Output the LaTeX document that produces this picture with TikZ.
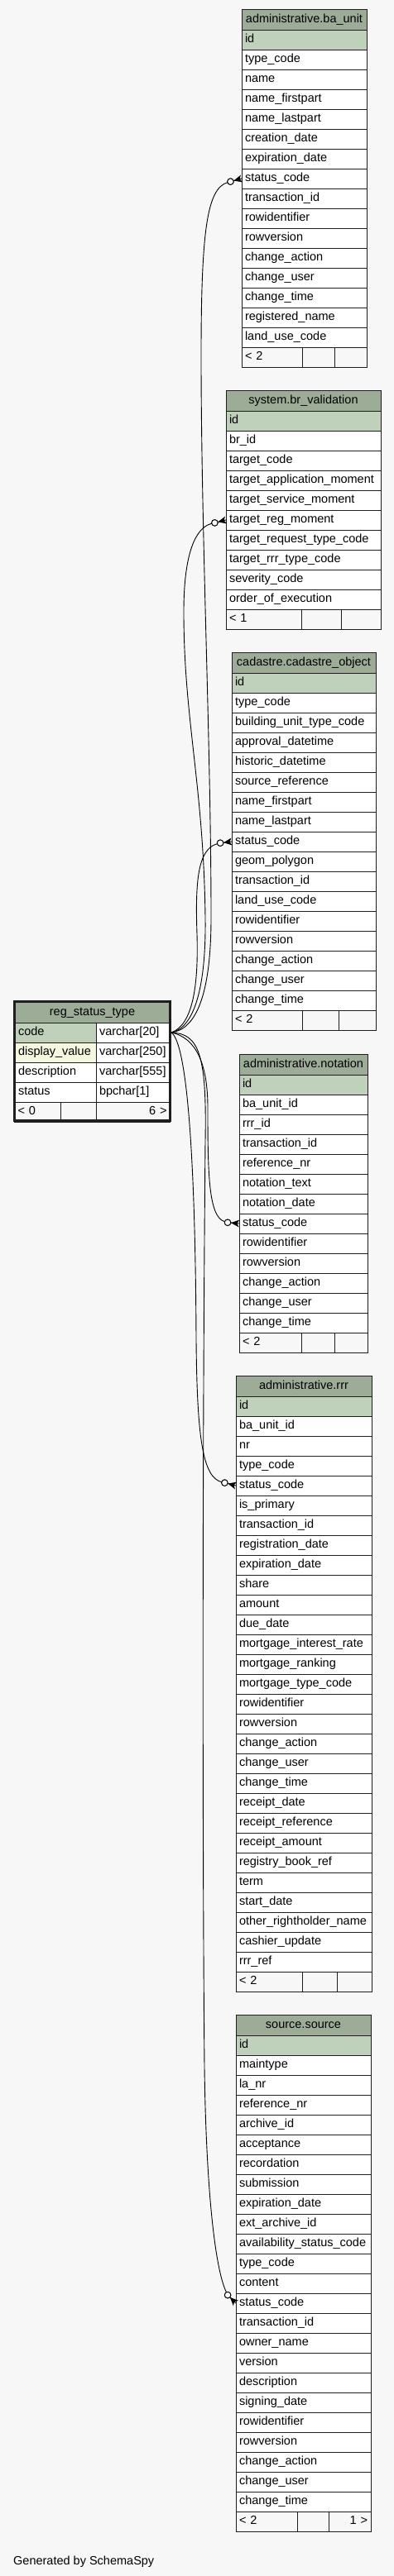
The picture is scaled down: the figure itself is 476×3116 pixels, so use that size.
\documentclass[tikz,border=0pt]{standalone}
\usepackage{fontspec}
\setmainfont{Liberation Sans}
\usetikzlibrary{calc}
\definecolor{bgc}{RGB}{247,247,247}
\definecolor{hdrc}{RGB}{156,172,151}
\definecolor{idc}{RGB}{191,209,186}
\definecolor{dispc}{RGB}{245,247,222}
\definecolor{linec}{RGB}{30,30,30}
\tikzset{
  cell/.style={draw=linec, line width=1pt, rectangle, inner sep=0pt, inner xsep=4pt, outer sep=0pt,
    minimum height=24pt, text height=10.5pt, text depth=3pt,
    font=\fontsize{14.5pt}{17pt}\selectfont, anchor=north west, align=left},
  hdrcell/.style={cell, fill=hdrc, minimum height=25pt, align=center},
  footcell/.style={cell, fill=bgc},
  dotc/.style={circle, draw=black, fill=white, line width=0.9pt, minimum size=7.5pt, inner sep=0pt, outer sep=0pt},
  rel/.style={draw=black, line width=0.9pt},
  credit/.style={font=\fontsize{14.5pt}{17pt}\selectfont, inner sep=0pt, anchor=base west},
}
\newcommand\erdtable[6]{%
  \pgfmathsetmacro\erdtw{#3-#2}%
  \pgfmathsetmacro\erdttw{#3-#2-8}%
  \node[hdrcell, minimum width=\erdtw pt, text width=\erdttw pt] (#1-h) at (#2,#4) {#5};
  \foreach \erdrow [count=\i from 0] in {#6} {%
    \pgfmathsetmacro\erdy{#4+25+24*\i}%
    \ifnum\i=0 \def\erdfill{idc}\else\def\erdfill{white}\fi
    \node[cell, fill=\erdfill, minimum width=\erdtw pt, text width=\erdttw pt] (#1-\i) at (#2,\erdy) {\erdrow};
  }%
}
\newcommand\erdfoot[8]{%
  \pgfmathsetmacro\fwa{#3-#2}\pgfmathsetmacro\fta{#3-#2-8}%
  \pgfmathsetmacro\fwb{#4-#3}%
  \pgfmathsetmacro\fwc{#5-#4}\pgfmathsetmacro\ftc{#5-#4-8}%
  \node[footcell, minimum width=\fwa pt, text width=\fta pt] (#1-fa) at (#2,#6) {#7};
  \node[footcell, minimum width=\fwb pt] (#1-fb) at (#3,#6) {};
  \node[footcell, minimum width=\fwc pt, text width=\ftc pt, align=right] (#1-fc) at (#4,#6) {#8};
}
\newcommand\crowat[3]{%
  \coordinate (#1t) at (#2);
  \node[dotc] (#1) at ($(#1t)+({#3+180}:14)$) {};
  \begin{scope}[shift={(#1t)}, rotate={-1*(#3)}]
    \fill[black] (-10,0) -- (0,-4.5) -- (-2.5,0) -- (0,4.5) -- cycle;
    \draw[line width=0.9pt] (-10,0) -- (0,0);
  \end{scope}
}
\begin{document}
\begin{tikzpicture}[x=1pt,y=-1pt]
\fill[bgc] (0,0) rectangle (476,3116);
\useasboundingbox (0,0) rectangle (476,3116);

% administrative.ba_unit
\erdtable{bau}{292}{443}{11}{administrative.ba\_unit}{id,type\_code,name,name\_firstpart,name\_lastpart,creation\_date,expiration\_date,status\_code,transaction\_id,rowidentifier,rowversion,change\_action,change\_user,change\_time,registered\_name,land\_use\_code}
\erdfoot{bau}{292}{365}{404}{443}{420}{< 2}{}

% system.br_validation
\erdtable{brv}{273}{460}{472}{system.br\_validation}{id,br\_id,target\_code,target\_application\_moment,target\_service\_moment,target\_reg\_moment,target\_request\_type\_code,target\_rrr\_type\_code,severity\_code,order\_of\_execution}
\erdfoot{brv}{273}{364}{412}{460}{737}{< 1}{}

% cadastre.cadastre_object
\erdtable{cad}{280}{454}{789}{cadastre.cadastre\_object}{id,type\_code,building\_unit\_type\_code,approval\_datetime,historic\_datetime,source\_reference,name\_firstpart,name\_lastpart,status\_code,geom\_polygon,transaction\_id,land\_use\_code,rowidentifier,rowversion,change\_action,change\_user,change\_time}
\erdfoot{cad}{280}{365}{409}{454}{1222}{< 2}{}

% administrative.notation
\erdtable{nota}{289}{444}{1275}{administrative.notation}{id,ba\_unit\_id,rrr\_id,transaction\_id,reference\_nr,notation\_text,notation\_date,status\_code,rowidentifier,rowversion,change\_action,change\_user,change\_time}
\erdfoot{nota}{289}{364}{404}{444}{1612}{< 2}{}

% administrative.rrr
\erdtable{rrr}{285}{449}{1664}{administrative.rrr}{id,ba\_unit\_id,nr,type\_code,status\_code,is\_primary,transaction\_id,registration\_date,expiration\_date,share,amount,due\_date,mortgage\_interest\_rate,mortgage\_ranking,mortgage\_type\_code,rowidentifier,rowversion,change\_action,change\_user,change\_time,receipt\_date,receipt\_reference,receipt\_amount,registry\_book\_ref,term,start\_date,other\_rightholder\_name,cashier\_update,rrr\_ref}
\erdfoot{rrr}{285}{365}{407}{449}{2385}{< 2}{}

% source.source
\erdtable{srce}{285}{448}{2437}{source.source}{id,maintype,la\_nr,reference\_nr,archive\_id,acceptance,recordation,submission,expiration\_date,ext\_archive\_id,availability\_status\_code,type\_code,content,status\_code,transaction\_id,owner\_name,version,description,signing\_date,rowidentifier,rowversion,change\_action,change\_user,change\_time}
\erdfoot{srce}{285}{359}{397}{448}{3038}{< 2}{1 >}

% reg_status_type
\node[hdrcell, minimum width=188pt, minimum height=25.5pt, text width=180pt] (rst-h) at (17.5,1211.5) {reg\_status\_type};
\node[cell, fill=idc, minimum width=98.5pt, text width=89.5pt] (rst-a0) at (17.5,1237) {code};
\node[cell, fill=white, minimum width=89.5pt, text width=81.5pt] (rst-b0) at (116,1237) {varchar[20]};
\node[cell, fill=dispc, minimum width=98.5pt, text width=89.5pt] (rst-a1) at (17.5,1261) {display\_value};
\node[cell, fill=white, minimum width=89.5pt, text width=81.5pt] (rst-b1) at (116,1261) {varchar[250]};
\node[cell, fill=white, minimum width=98.5pt, text width=89.5pt] (rst-a2) at (17.5,1285) {description};
\node[cell, fill=white, minimum width=89.5pt, text width=81.5pt] (rst-b2) at (116,1285) {varchar[555]};
\node[cell, fill=white, minimum width=98.5pt, text width=89.5pt] (rst-a3) at (17.5,1309) {status};
\node[cell, fill=white, minimum width=89.5pt, text width=81.5pt] (rst-b3) at (116,1309) {bpchar[1]};
\erdfoot{rst}{17.5}{73}{116}{205.5}{1333}{< 0}{6 >}
\draw[line width=3pt, linec] (rst-h.north west) rectangle ([yshift=1.5pt]rst-fc.south east);

% relationship end markers
\crowat{cA}{bau-7.west}{-15}
\crowat{cB}{brv-5.west}{-14}
\crowat{cC}{cad-8.west}{-7}
\crowat{cD}{nota-7.west}{5}
\crowat{cE}{rrr-4.west}{14}
\crowat{cF}{srce-13.west}{45}

\coordinate (src) at ([xshift=1.5pt]rst-b0.east);
\draw[rel] (src) .. controls (238,1245) and (255,1200) .. (255,1110)
  .. controls (255,900) and (243,650) .. (243,430)
  .. controls (243,280) and (250,228) .. (cA);
\draw[rel] (src) .. controls (236,1243) and (249,1190) .. (248,1110)
  .. controls (246,950) and (222,870) .. (222,740)
  .. controls (222,670) and (236,638) .. (cB);
\draw[rel] (src) .. controls (232,1240) and (240,1195) .. (238,1130)
  .. controls (236,1070) and (238,1027) .. (cC);
\draw[rel] (src) .. controls (236,1255) and (251,1285) .. (251,1340)
  .. controls (251,1420) and (252,1472) .. (cD);
\draw[rel] (src) .. controls (226,1262) and (236,1400) .. (237,1620)
  .. controls (238,1740) and (245,1787) .. (cE);
\draw[rel] (src) .. controls (240,1250) and (250,1275) .. (248,1380)
  .. controls (244,1800) and (245,2300) .. (247,2500)
  .. controls (249,2650) and (260,2745) .. (cF);
% redraw circles on top of curves
\foreach \c in {cA,cB,cC,cD,cE,cF} { \node[dotc] at (\c) {}; }

\node[credit] (gen) at (16,3102) {Generated by SchemaSpy};
\end{tikzpicture}
\end{document}
